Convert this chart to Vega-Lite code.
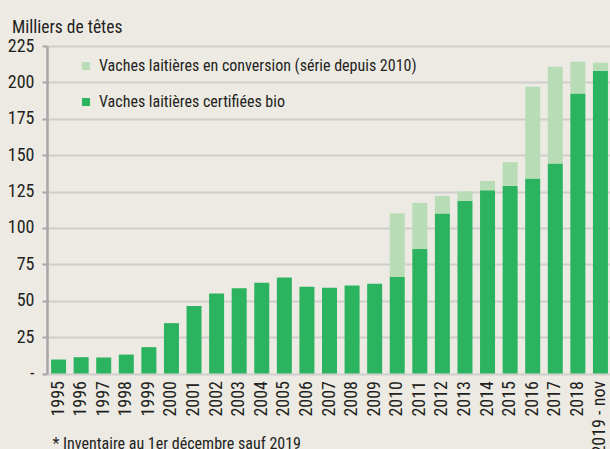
{
  "$schema": "https://vega.github.io/schema/vega-lite/v6.json",
  "width": 565,
  "height": 327.5,
  "autosize": {"type": "none"},
  "padding": {"left": 47, "top": 46, "right": 0, "bottom": 75.5},
  "background": "#EDEAE4",
  "title": {
    "text": "Milliers de têtes",
    "anchor": "start",
    "frame": "group",
    "dx": -35,
    "offset": -13,
    "baseline": "alphabetic",
    "font": "Roboto Condensed, DejaVu Sans Condensed, sans-serif",
    "fontSize": 17.5,
    "fontWeight": "normal",
    "color": "#231F20"
  },
  "config": {
    "view": {"stroke": null},
    "font": "Roboto Condensed, DejaVu Sans Condensed, sans-serif"
  },
  "data": {
    "values": [
      {"year": "1995", "type": "Vaches laitières certifiées bio", "value": 9.6},
      {"year": "1996", "type": "Vaches laitières certifiées bio", "value": 11.2},
      {"year": "1997", "type": "Vaches laitières certifiées bio", "value": 11},
      {"year": "1998", "type": "Vaches laitières certifiées bio", "value": 13},
      {"year": "1999", "type": "Vaches laitières certifiées bio", "value": 18.1},
      {"year": "2000", "type": "Vaches laitières certifiées bio", "value": 34.6},
      {"year": "2001", "type": "Vaches laitières certifiées bio", "value": 46.3},
      {"year": "2002", "type": "Vaches laitières certifiées bio", "value": 55},
      {"year": "2003", "type": "Vaches laitières certifiées bio", "value": 58.6},
      {"year": "2004", "type": "Vaches laitières certifiées bio", "value": 62.3},
      {"year": "2005", "type": "Vaches laitières certifiées bio", "value": 66},
      {"year": "2006", "type": "Vaches laitières certifiées bio", "value": 59.6},
      {"year": "2007", "type": "Vaches laitières certifiées bio", "value": 58.9},
      {"year": "2008", "type": "Vaches laitières certifiées bio", "value": 60.5},
      {"year": "2009", "type": "Vaches laitières certifiées bio", "value": 61.6},
      {"year": "2010", "type": "Vaches laitières certifiées bio", "value": 66.3},
      {"year": "2010", "type": "Vaches laitières en conversion (série depuis 2010)", "value": 43.7},
      {"year": "2011", "type": "Vaches laitières certifiées bio", "value": 85.5},
      {"year": "2011", "type": "Vaches laitières en conversion (série depuis 2010)", "value": 31.7},
      {"year": "2012", "type": "Vaches laitières certifiées bio", "value": 110},
      {"year": "2012", "type": "Vaches laitières en conversion (série depuis 2010)", "value": 12},
      {"year": "2013", "type": "Vaches laitières certifiées bio", "value": 118.6},
      {"year": "2013", "type": "Vaches laitières en conversion (série depuis 2010)", "value": 6.6},
      {"year": "2014", "type": "Vaches laitières certifiées bio", "value": 125.9},
      {"year": "2014", "type": "Vaches laitières en conversion (série depuis 2010)", "value": 6.4},
      {"year": "2015", "type": "Vaches laitières certifiées bio", "value": 128.9},
      {"year": "2015", "type": "Vaches laitières en conversion (série depuis 2010)", "value": 16.3},
      {"year": "2016", "type": "Vaches laitières certifiées bio", "value": 134},
      {"year": "2016", "type": "Vaches laitières en conversion (série depuis 2010)", "value": 63},
      {"year": "2017", "type": "Vaches laitières certifiées bio", "value": 144.3},
      {"year": "2017", "type": "Vaches laitières en conversion (série depuis 2010)", "value": 66.5},
      {"year": "2018", "type": "Vaches laitières certifiées bio", "value": 192.4},
      {"year": "2018", "type": "Vaches laitières en conversion (série depuis 2010)", "value": 21.8},
      {"year": "2019 - nov", "type": "Vaches laitières certifiées bio", "value": 208},
      {"year": "2019 - nov", "type": "Vaches laitières en conversion (série depuis 2010)", "value": 5.5}
    ]
  },
  "mark": {"type": "bar"},
  "encoding": {
    "x": {
      "field": "year",
      "type": "nominal",
      "sort": null,
      "scale": {"paddingInner": 0.336, "paddingOuter": 0.18},
      "axis": {
        "title": "* Inventaire au 1er décembre sauf 2019",
        "titleAnchor": "start",
        "titleAlign": "left",
        "titleX": 5,
        "titleY": 74.5,
        "titleBaseline": "alphabetic",
        "titleFontSize": 16,
        "titleFontWeight": "normal",
        "titleColor": "#231F20",
        "labelAngle": -90,
        "labelFontSize": 18,
        "labelColor": "#231F20",
        "labelPadding": 7,
        "ticks": false,
        "domain": false
      }
    },
    "y": {
      "field": "value",
      "type": "quantitative",
      "stack": "zero",
      "scale": {"domain": [0, 225], "nice": false},
      "axis": {
        "title": null,
        "values": [0, 25, 50, 75, 100, 125, 150, 175, 200, 225],
        "labelExpr": "datum.value == 0 ? '-\u00a0\u00a0' : datum.label",
        "labelFontSize": 18,
        "labelColor": "#231F20",
        "labelPadding": 8,
        "tickSize": 5,
        "tickColor": "#A6A6A6",
        "tickWidth": 2,
        "domainColor": "#A6A6A6",
        "domainWidth": 2.5,
        "gridColor": "#CFCECB",
        "gridWidth": 2
      }
    },
    "color": {
      "field": "type",
      "type": "nominal",
      "scale": {
        "domain": ["Vaches laitières en conversion (série depuis 2010)", "Vaches laitières certifiées bio"],
        "range": ["#B8DDB6", "#2BB35F"]
      },
      "legend": {
        "title": null,
        "orient": "none",
        "legendX": 31,
        "legendY": 12,
        "padding": 0,
        "symbolType": "square",
        "symbolSize": 64,
        "symbolStrokeWidth": 0,
        "symbolOpacity": 1,
        "labelFontSize": 16,
        "labelColor": "#231F20",
        "labelOffset": 5,
        "labelLimit": 0,
        "rowPadding": 20
      }
    },
    "order": {"field": "type", "type": "nominal", "sort": "ascending"}
  }
}
